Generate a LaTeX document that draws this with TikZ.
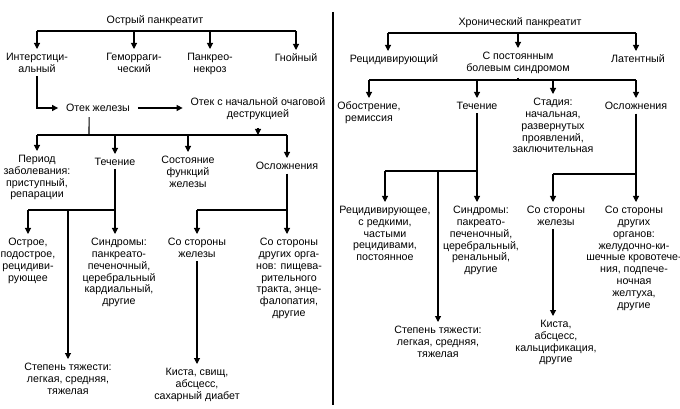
\documentclass[tikz,border=0pt]{standalone}
\usepackage{fontspec}
\setmainfont{Liberation Sans}
\usetikzlibrary{arrows.meta}
\begin{document}
\begin{tikzpicture}[x=0.75pt,y=-0.75pt,
  t/.style={font=\fontsize{8}{8.9}\selectfont,align=center,inner sep=0pt,outer sep=3pt,anchor=north},
  ln/.style={line width=0.8pt},
  arr/.style={ln,-{Triangle[length=4.5pt,width=4.5pt]}}]
\useasboundingbox (0,0) rectangle (680,409);
\draw[line width=1.6pt] (333,12) -- (333,405);
% ---------- left ----------
\node[t] (T1) at (155,12) {Острый панкреатит};
\node[t] (a1) at (37,49) {Интерстици-\\альный};
\node[t] (a2) at (134,49) {Геморраги-\\ческий};
\node[t] (a3) at (210,49) {Панкрео-\\некроз};
\node[t] (a4) at (296,50) {Гнойный};
\draw[ln] (T1.south) -- (155,31) coordinate (j1);
\draw[ln] (37,31) -- (296,31);
\foreach \n in {a1,a2,a3,a4} \draw[arr] (j1 -| \n.north) -- (\n.north);
\node[t,anchor=center,outer sep=6pt] (b1) at (98,108) {Отек железы};
\node[t,anchor=center,outer sep=6pt] (b2) at (258,109) {Отек с начальной очаговой\\деструкцией};
\draw[arr] (a1.south) |- (b1.west);
\draw[arr] (b1.east) -- (b1.east -| b2.west);
\node[t] (c1) at (37,151) {Период\\заболевания:\\приступный,\\репарации};
\node[t] (c2) at (115,154) {Течение};
\node[t] (c3) at (188,152) {Состояние\\функций\\железы};
\node[t] (c4) at (287,158) {Осложнения};
\coordinate (j2) at (89,135);
\draw[ln] ([xshift=-6.7pt,yshift=2pt]b1.south) -- (j2);
\draw[ln] (37,135) -- (287,135);
\draw[arr] (b2.south) -- (b2.south |- j2);
\foreach \n in {c1,c2,c3,c4} \draw[arr] (j2 -| \n.north) -- (\n.north);
\node[t] (d1) at (28,234) {Острое,\\подострое,\\рецидиви-\\рующее};
\node[t] (d2) at (119,234) {Синдромы:\\панкреато-\\печеночный,\\церебральный\\кардиальный,\\другие};
\node[t] (e1) at (68,359) {Степень тяжести:\\легкая, средняя,\\тяжелая};
\draw[ln] (c2.south) -- (115,210) coordinate (j3);
\draw[ln] (28,210) -- (j3);
\draw[arr] (j3 -| d1.north) -- (d1.north);
\draw[arr] (j3) -- (j3 |- d2.north);
\draw[arr] (j3 -| e1.north) -- (e1.north);
\node[t] (d3) at (197,234) {Со стороны\\железы};
\node[t] (d4) at (289,234) {Со стороны\\других орга-\\нов: пищева-\\рительного\\тракта, энце-\\фалопатия,\\другие};
\node[t] (e2) at (197,364) {Киста, свищ,\\абсцесс,\\сахарный диабет};
\draw[ln] (c4.south) -- (287,210) coordinate (j4);
\draw[ln] (197,210) -- (j4);
\draw[arr] (j4 -| d3.north) -- (d3.north);
\draw[arr] (j4) -- (j4 |- d4.north);
\draw[arr] (d3.south) -- (e2.north);
% ---------- right ----------
\node[t] (R) at (520,14) {Хронический панкреатит};
\node[t] (f1) at (394,51) {Рецидивирующий};
\node[t] (f2) at (518,48) {С постоянным\\болевым синдромом};
\node[t] (f3) at (638,51) {Латентный};
\draw[ln] (R.south -| f2.north) -- (518,33) coordinate (k1);
\draw[ln] (388,33) -- (636,33);
\draw[arr] (k1 -| 388,0) -- (388,0 |- f1.north);
\draw[arr] (k1) -- (f2.north);
\draw[arr] (k1 -| 636,0) -- (636,0 |- f3.north);
\node[t] (g1) at (369,98) {Обострение,\\ремиссия};
\node[t] (g2) at (477,98) {Течение};
\node[t] (g3) at (553,94) {Стадия:\\начальная,\\развернутых\\проявлений,\\заключительная};
\node[t] (g4) at (636,98) {Осложнения};
\draw[ln] (f2.south) -- (518,80) coordinate (k2);
\draw[ln] (369,80) -- (636,80);
\foreach \n in {g1,g2,g3,g4} \draw[arr] (k2 -| \n.north) -- (\n.north);
\node[t] (h1) at (385,202) {Рецидивирующее,\\с редкими,\\частыми\\рецидивами,\\постоянное};
\node[t] (h2) at (481,202) {Синдромы:\\пакреато-\\печеночный,\\церебральный,\\ренальный,\\другие};
\node[t] (i1) at (438,322) {Степень тяжести:\\легкая, средняя,\\тяжелая};
\draw[ln] (g2.south) -- (477,171) coordinate (k3);
\draw[ln] (385,171) -- (k3);
\draw[arr] (k3 -| h1.north) -- (h1.north);
\draw[arr] (k3) -- (k3 |- h2.north);
\draw[arr] (k3 -| i1.north) -- (i1.north);
\node[t] (h3) at (556,202) {Со стороны\\железы};
\node[t] (h4) at (634,202) {Со стороны\\других\\органов:\\желудочно-ки-\\шечные кровотече-\\ния, подпече-\\ночная\\желтуха,\\другие};
\node[t] (i2) at (556,316) {Киста,\\абсцесс,\\кальцификация,\\другие};
\draw[ln] (g4.south) -- (636,174) coordinate (k4);
\draw[ln] (553,174) -- (k4);
\draw[arr] (k4 -| 553,0) -- (553,0 |- h3.north);
\draw[arr] (k4) -- (k4 |- h4.north);
\draw[arr] (553,0 |- h3.south) -- (553,0 |- i2.north);
\end{tikzpicture}
\end{document}
